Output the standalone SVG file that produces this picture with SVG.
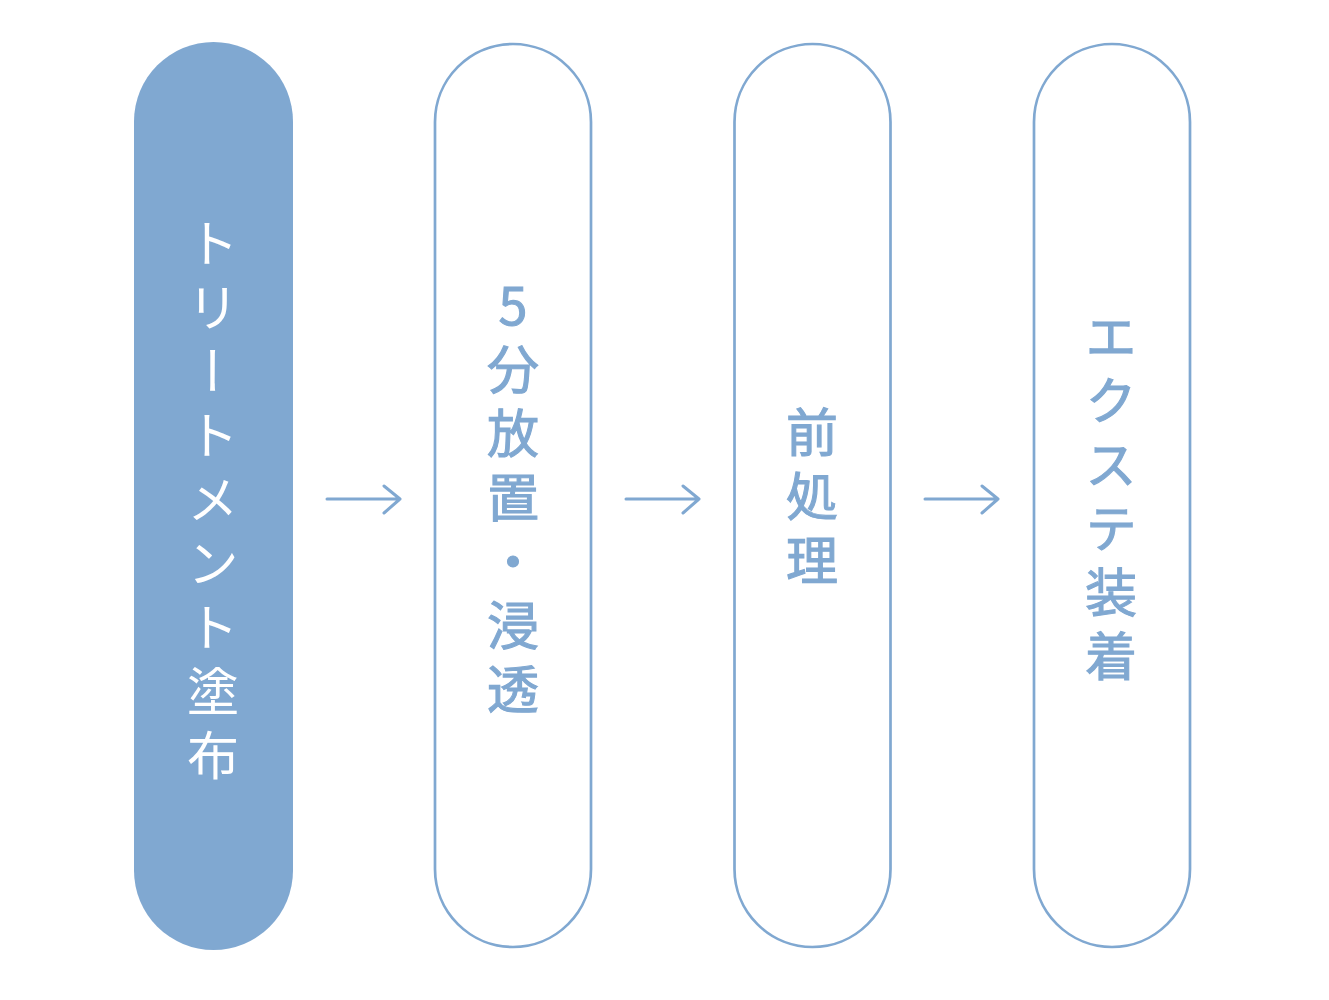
<svg xmlns="http://www.w3.org/2000/svg" width="1329" height="1000" viewBox="0 0 1329 1000">
<style>
.pill{fill:#fff;stroke:#80A8D1;stroke-width:2.7}
.fill{fill:#80A8D1}
.lbl{font-family:"Noto Sans CJK JP","Noto Sans",sans-serif;font-size:52px;letter-spacing:12px;writing-mode:vertical-rl;text-orientation:upright;fill:#80A8D1;stroke:#80A8D1;stroke-width:1.1;font-weight:400}
.w{fill:#fff;stroke:none}
.arr{fill:none;stroke:#80A8D1;stroke-width:3;stroke-linecap:round;stroke-linejoin:round}
</style>
<rect width="1329" height="1000" fill="#fff"/>
<g id="node1">
<rect class="fill" x="134" y="42" width="159" height="908" rx="79.5"/>
<text class="lbl w" x="213" y="217">トリートメント塗布</text>
</g>
<g id="node2">
<rect class="pill" x="435" y="44" width="156" height="903" rx="78"/>
<text class="lbl" x="513" y="279">5分放置・浸透</text>
</g>
<g id="node3">
<rect class="pill" x="734.5" y="44" width="156" height="903" rx="78"/>
<text class="lbl" x="812" y="406">前処理</text>
</g>
<g id="node4">
<rect class="pill" x="1034" y="44" width="156" height="903" rx="78"/>
<text class="lbl" x="1111" y="310">エクステ装着</text>
</g>
<g id="connectors">
<path class="arr" d="M327 499H400M384 486L400 499L384 513"/>
<path class="arr" d="M626 499H699M683 486L699 499L683 513"/>
<path class="arr" d="M925 499H998M982 486L998 499L982 513"/>
</g>
</svg>
